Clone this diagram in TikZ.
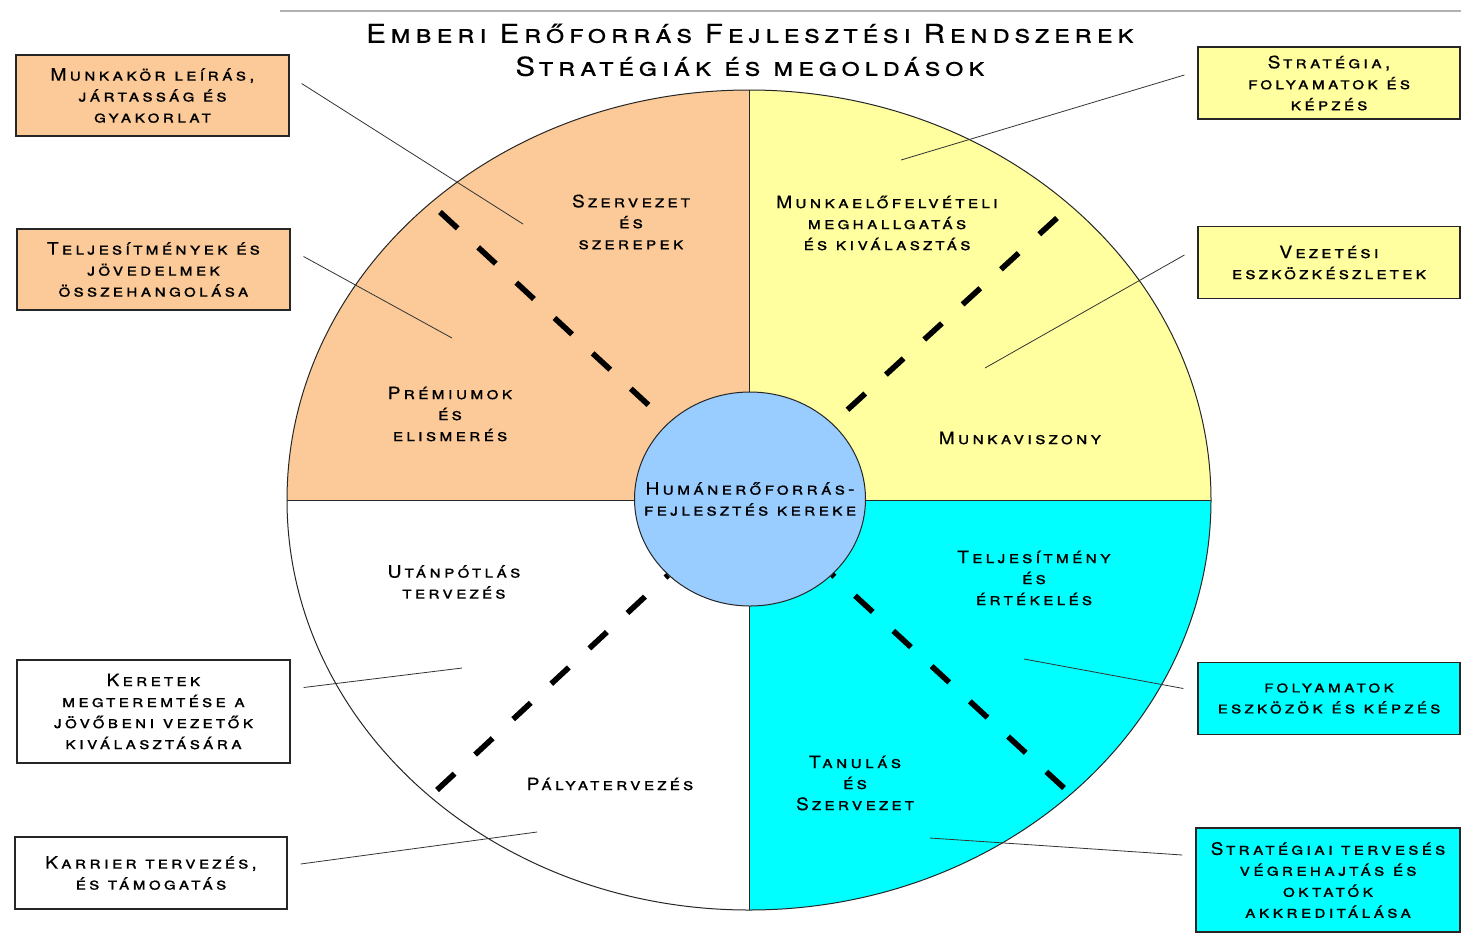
\documentclass[tikz,border=0pt]{standalone}
\usepackage{fontspec}
\setmainfont{TeX Gyre Heros}[LetterSpace=18, FakeStretch=1.13, FakeBold=0.4]
\usetikzlibrary{shapes.geometric}
\definecolor{peach}{RGB}{251,202,152}
\definecolor{lemon}{RGB}{255,255,160}
\definecolor{aqua}{RGB}{0,255,255}
\definecolor{hubblue}{RGB}{153,204,255}

\begin{document}
\begin{tikzpicture}[x = 0.5pt, y = -0.5pt,
  every node/.style = {font = \fontsize{8.5}{10.5}\selectfont\scshape, align = center},
  box/.style = {draw = black!85, line width = 0.6pt, inner sep = 0pt, minimum width = 136.5pt, minimum height = 40.5pt},
  rbox/.style = {box, minimum width = 131pt, minimum height = 36pt},
  wedge/.style = {draw = black!85, line width = 0.5pt},
  spoke/.style = {line width = 2.8pt, dash pattern = on 12pt off 14pt},
  lead/.style = {draw = black!80, line width = 0.4pt}]
\useasboundingbox (0,0) rectangle (1461,933);
\draw[black!30, line width = 0.6pt] (280,11) -- (1461,11);
\node[font = \fontsize{13}{16.5}\selectfont\scshape] (title) at (750,50) {Emberi Erőforrás Fejlesztési Rendszerek\\ Stratégiák és megoldások};

\fill[peach] (749,500) -- (287,500) arc[start angle = 180, end angle = 270, x radius = 462, y radius = 410] -- cycle;
\fill[lemon] (749,500) -- (749,90) arc[start angle = 270, end angle = 360, x radius = 462, y radius = 410] -- cycle;
\fill[aqua] (749,500) -- (1211,500) arc[start angle = 0, end angle = 90, x radius = 462, y radius = 410] -- cycle;
\draw[wedge] (749,500) ellipse [x radius = 462, y radius = 410];
\draw[wedge] (287,500) -- (1211,500);
\draw[wedge] (749,90) -- (749,910);

\coordinate (d1) at (440,212);
\coordinate (d2) at (1057,218);
\coordinate (d3) at (437,790);
\coordinate (d4) at (1064,788);
\node[ellipse, draw = black!85, line width = 0.5pt, fill = hubblue, minimum width = 115.5pt, minimum height = 107pt, inner sep = 0pt,
  label = {center:{Humánerőforrás-\\fejlesztés kereke}}] (hub) at (750,499) {};
\draw[spoke] (d1) -- (hub);
\draw[spoke] (d2) -- (hub);
\draw[spoke] (d3) -- (hub);
\draw[spoke] (d4) -- (hub);

\node (s1) at (631,222) {Szervezet\\és\\szerepek};
\node (s2) at (887,223) {Munkaelőfelvételi\\meghallgatás\\és kiválasztás};
\node (s3) at (450,414) {Prémiumok\\és\\elismerés};
\node (s4) at (1020,438) {Munkaviszony};
\node (s5) at (454,582) {Utánpótlás\\tervezés};
\node (s6) at (1034,578) {Teljesítmény\\és\\értékelés};
\node (s7) at (610,784) {Pályatervezés};
\node (s8) at (855,783) {Tanulás\\és\\Szervezet};

\node[box, fill = peach] (b1) at (152.5,95.5) {Munkakör leírás,\\jártasság és\\gyakorlat};
\node[box, fill = peach] (b2) at (153.5,269.5) {Teljesítmények és\\jövedelmek\\összehangolása};
\node[box, fill = white, minimum height = 51.5pt] (b3) at (153.5,711.5) {Keretek\\megteremtése a\\jövőbeni vezetők\\kiválasztására};
\node[box, fill = white, minimum width = 136pt, minimum height = 36pt] (b4) at (151,873) {Karrier tervezés,\\és támogatás};
\node[rbox, fill = lemon] (b5) at (1329,83) {Stratégia,\\folyamatok és\\képzés};
\node[rbox, fill = lemon] (b6) at (1329,262.5) {Vezetési\\eszközkészletek};
\node[rbox, fill = aqua] (b7) at (1329,698.5) {folyamatok\\eszközök és képzés};
\node[rbox, fill = aqua, minimum width = 132pt, minimum height = 52pt] (b8) at (1328,880) {Stratégiai tervesés\\végrehajtás és\\oktatók\\akkreditálása};

\coordinate (c1) at (523,224);
\coordinate (c2) at (452,338);
\coordinate (c3) at (462,668);
\coordinate (c4) at (537,832);
\coordinate (c5) at (901,160);
\coordinate (c6) at (985,368);
\coordinate (c7) at (1024,659);
\coordinate (c8) at (930,838);
\draw[lead] ([xshift = 6pt, yshift = 6pt]b1.east) -- (c1);
\draw[lead] ([xshift = 6.5pt, yshift = 6.5pt]b2.east) -- (c2);
\draw[lead] ([xshift = 6.5pt, yshift = 12pt]b3.east) -- (c3);
\draw[lead] ([xshift = 6.5pt, yshift = 4.5pt]b4.east) -- (c4);
\draw[lead] ([xshift = -6.5pt, yshift = 4pt]b5.west) -- (c5);
\draw[lead] ([xshift = -6.5pt, yshift = 3.75pt]b6.west) -- (c6);
\draw[lead] ([xshift = -7pt, yshift = 5pt]b7.west) -- (c7);
\draw[lead] ([xshift = -6.5pt, yshift = 12.5pt]b8.west) -- (c8);
\end{tikzpicture}
\end{document}
